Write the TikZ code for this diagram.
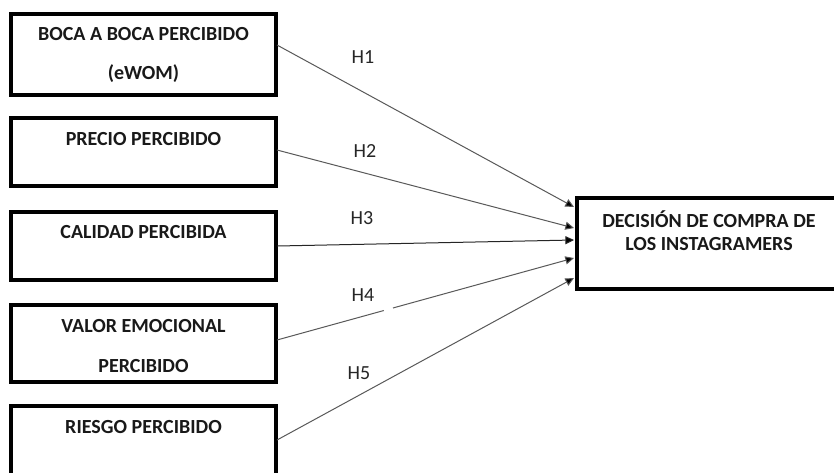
\documentclass[tikz,border=0pt]{standalone}
\usepackage{fontspec}
\setmainfont{Carlito}
\usetikzlibrary{arrows.meta,calc}
\tikzset{
  box/.style={draw=black, line width=3.2pt, rectangle, inner sep=0pt},
  btxt/.style={font=\fontsize{15}{18}\selectfont\bfseries, anchor=base, inner sep=0pt, text=black!90},
  hlab/.style={font=\fontsize{15}{18}\selectfont, anchor=base, inner sep=0pt, text=black!85},
  link/.style={draw=black!65, line width=0.75pt, -{Triangle[length=6.5pt,width=6pt,fill=black]}},
}
\begin{document}
\begin{tikzpicture}[x=0.75pt, y=-0.75pt]
\useasboundingbox (0,0) rectangle (834,472);
\clip (0,0) rectangle (834,472);
\fill[white] (0,0) rectangle (834,472);
% boxes
\node[box, minimum width=265*0.75pt, minimum height=81*0.75pt] (b1) at (143.5,54.5) {};
\node[box, minimum width=265*0.75pt, minimum height=68*0.75pt] (b2) at (143.5,152) {};
\node[box, minimum width=265*0.75pt, minimum height=68*0.75pt] (b3) at (143.5,246) {};
\node[box, minimum width=265*0.75pt, minimum height=77*0.75pt] (b4) at (143.5,343.5) {};
\node[box, minimum width=265*0.75pt, minimum height=72*0.75pt] (b5) at (143.5,442) {};
\node[box, minimum width=268*0.75pt, minimum height=91*0.75pt] (d) at (711,243.5) {};
% texts
\node[btxt] (t1a) at (143.5,40) {BOCA A BOCA PERCIBIDO};
\node[btxt] (t1b) at (143.5,79) {(eWOM)};
\node[btxt] (t2) at (143.5,145) {PRECIO PERCIBIDO};
\node[btxt] (t3) at (143.5,238) {CALIDAD PERCIBIDA};
\node[btxt] (t4a) at (143.5,332) {VALOR EMOCIONAL};
\node[btxt] (t4b) at (143.5,372) {PERCIBIDO};
\node[btxt] (t5) at (143.5,433) {RIESGO PERCIBIDO};
\node[btxt] (tda) at (709,227) {DECISIÓN DE COMPRA DE};
\node[btxt] (tdb) at (709,250) {LOS INSTAGRAMERS};
% anchors on edges
\coordinate (s1) at (277,45);
\coordinate (s2) at (277,150);
\coordinate (s3) at (277,246);
\coordinate (s4) at (277,340);
\coordinate (s5) at (277,440);
\coordinate (e1) at (574,207);
\coordinate (e2) at (574,228);
\coordinate (e3) at (574,240);
\coordinate (e4) at (574,258);
\coordinate (e5) at (574,278);
% connectors
\draw[link] (s1) -- (e1);
\draw[link] (s2) -- (e2);
\draw[link, draw=black!85] (s3) -- (e3);
\draw[link] (s4) -- (e4);
\draw[link] (s5) -- (e5);
% small gap in H4 line
\draw[white, line width=2.5pt] ($(s4)!0.36!(e4)$) -- ($(s4)!0.39!(e4)$);
% labels
\node[hlab] (h1) at (363,63) {H1};
\node[hlab] (h2) at (365,157) {H2};
\node[hlab] (h3) at (362,224) {H3};
\node[hlab] (h4) at (363,301) {H4};
\node[hlab] (h5) at (359,379) {H5};
\end{tikzpicture}
\end{document}
